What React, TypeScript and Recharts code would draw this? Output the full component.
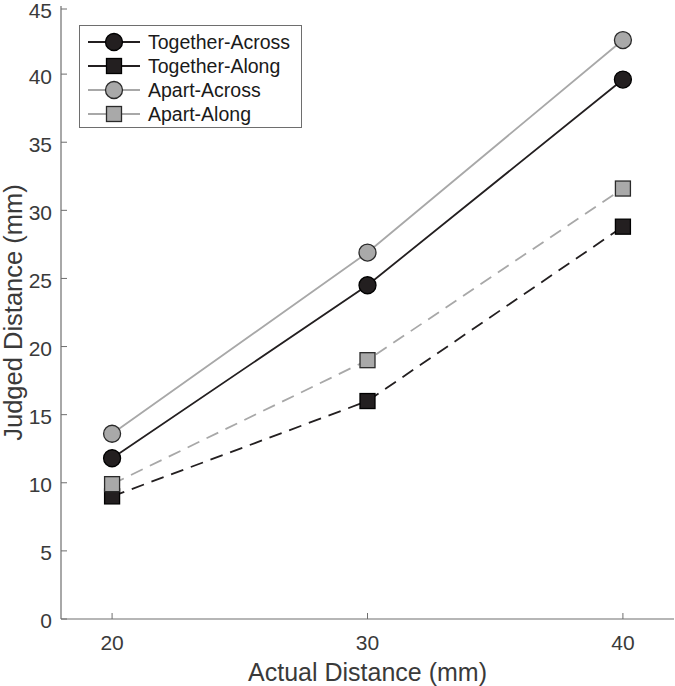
import React from 'react';
import { LineChart, Line, XAxis, YAxis } from 'recharts';

const actual = [20, 30, 40];
const togetherAcross = [11.8, 24.5, 39.6];
const togetherAlong = [9.0, 16.0, 28.8];
const apartAcross = [13.6, 26.9, 42.5];
const apartAlong = [9.9, 19.0, 31.6];
const xTicks = [20, 30, 40];
const yTicks = [0, 5, 10, 15, 20, 25, 30, 35, 40, 45];

const FONT = '"Liberation Sans", Arial, Helvetica, sans-serif';
const AXIS = '#6e6e6e';
const TEXT = '#3a3a3a';
const BLACK = '#231f20';
const GRAY = '#a8a8a8';
const GRAY_FILL = '#a9a9a9';

const data = actual.map((x, i) => ({
  x,
  ta: togetherAcross[i],
  tl: togetherAlong[i],
  aa: apartAcross[i],
  al: apartAlong[i],
}));

const series = [
  { key: 'ta', name: 'Together-Across', stroke: BLACK, fill: BLACK, edge: '#000', shape: 'circle', dash: undefined },
  { key: 'tl', name: 'Together-Along', stroke: BLACK, fill: BLACK, edge: '#000', shape: 'square', dash: '13 8' },
  { key: 'aa', name: 'Apart-Across', stroke: GRAY, fill: GRAY_FILL, edge: '#2a2a2a', shape: 'circle', dash: undefined },
  { key: 'al', name: 'Apart-Along', stroke: GRAY, fill: GRAY_FILL, edge: '#2a2a2a', shape: 'square', dash: '13 8' },
];

const Marker = ({ cx, cy, shape, fill, edge }: any) => {
  if (cx == null || cy == null) return null;
  if (shape === 'circle') {
    return <circle cx={cx} cy={cy} r={8.5} fill={fill} stroke={edge} strokeWidth={1.3} />;
  }
  return <rect x={cx - 7.5} y={cy - 7.5} width={15} height={15} fill={fill} stroke={edge} strokeWidth={1.3} />;
};

const YTick = ({ x, y, payload }: any) => (
  <g>
    <line x1={x} x2={x + 6} y1={y} y2={y} stroke={AXIS} strokeWidth={1} />
    <text x={x - 9} y={y} dy="0.45em" textAnchor="end" fontSize={21} fontFamily={FONT} fill={TEXT}>
      {payload.value}
    </text>
  </g>
);

const XTick = ({ x, y, payload }: any) => (
  <g>
    <line x1={x} x2={x} y1={y} y2={y - 6} stroke={AXIS} strokeWidth={1} />
    <text x={x} y={y + 31} textAnchor="middle" fontSize={21} fontFamily={FONT} fill={TEXT}>
      {payload.value}
    </text>
  </g>
);

const YTitle = ({ viewBox }: any) => {
  const cx = 13;
  const cy = viewBox ? viewBox.y + viewBox.height / 2 : 313;
  return (
    <text x={cx} y={cy} transform={`rotate(-90 ${cx} ${cy})`} dy="0.35em" textAnchor="middle" fontSize={25.5} fontFamily={FONT} fill={TEXT}>
      Judged Distance (mm)
    </text>
  );
};

const XTitle = ({ viewBox }: any) => {
  const cx = viewBox ? viewBox.x + viewBox.width / 2 : 367;
  return (
    <text x={cx} y={681} textAnchor="middle" fontSize={25} fontFamily={FONT} fill={TEXT}>
      Actual Distance (mm)
    </text>
  );
};

const LegendBox = () => (
  <div
    style={{
      position: 'absolute',
      left: 79,
      top: 25,
      width: 221,
      height: 101,
      border: `1px solid ${AXIS}`,
      background: '#fff',
    }}
  >
    <svg width={221} height={101}>
      {series.map((s, i) => {
        const cy = 16 + i * 24;
        return (
          <g key={s.key}>
            <line x1={8} x2={60} y1={cy} y2={cy} stroke={s.stroke} strokeWidth={1.8} />
            <Marker cx={34} cy={cy} shape={s.shape} fill={s.fill} edge={s.edge} />
            <text x={68} y={cy} dy="0.36em" fontSize={19.5} fontFamily={FONT} fill="#1a1a1a">
              {s.name}
            </text>
          </g>
        );
      })}
    </svg>
  </div>
);

export default function App() {
  return (
    <div style={{ position: 'absolute', left: 0, top: 0, width: 675, height: 686, background: '#fff' }}>
      <LineChart width={675} height={686} data={data} margin={{ top: 6, right: 1, bottom: 0, left: 0 }}>
        <XAxis
          dataKey="x"
          type="number"
          domain={[18, 42]}
          ticks={xTicks}
          height={67}
          tickSize={0}
          tickMargin={0}
          tickLine={false}
          tick={<XTick />}
          stroke={AXIS}
          axisLine={{ stroke: AXIS, strokeWidth: 1.2 }}
          label={<XTitle />}
          allowDataOverflow
        />
        <YAxis
          type="number"
          domain={[0, 45]}
          ticks={yTicks}
          width={61}
          tickSize={0}
          tickMargin={0}
          tickLine={false}
          tick={<YTick />}
          stroke={AXIS}
          axisLine={{ stroke: AXIS, strokeWidth: 1.2 }}
          label={<YTitle />}
          allowDataOverflow
        />
        {series.map((s) => (
          <Line
            key={s.key}
            dataKey={s.key}
            name={s.name}
            stroke={s.stroke}
            strokeWidth={1.8}
            strokeDasharray={s.dash}
            isAnimationActive={false}
            dot={(p: any) => <Marker key={`${s.key}-${p.index}`} cx={p.cx} cy={p.cy} shape={s.shape} fill={s.fill} edge={s.edge} />}
            activeDot={false}
          />
        ))}
      </LineChart>
      <LegendBox />
    </div>
  );
}
